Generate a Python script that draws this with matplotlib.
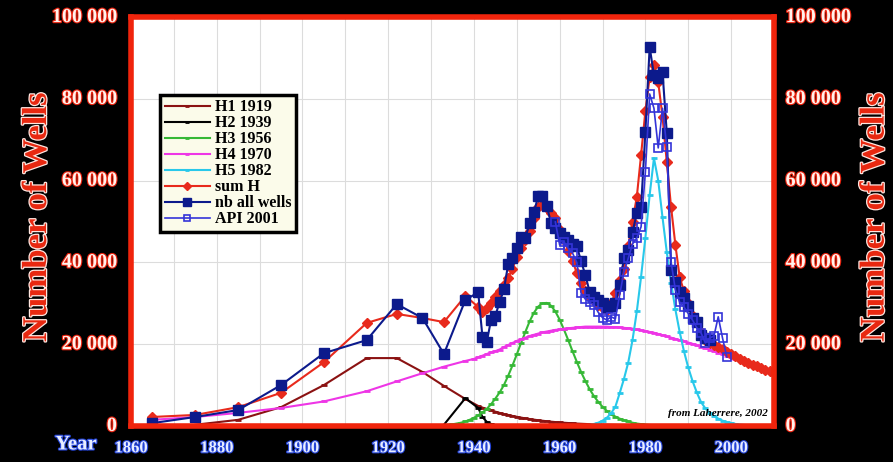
import matplotlib
matplotlib.use("Agg")
import matplotlib.pyplot as plt
import matplotlib.patheffects as pe

# ---- data ----
h1_years = [1875, 1885, 1895, 1905, 1915, 1922, 1928, 1933, 1938, 1941,
            1942, 1943, 1944, 1945, 1946, 1947, 1948, 1949, 1950, 1951,
            1952, 1953, 1954, 1955, 1956, 1957, 1958, 1959, 1960, 1961,
            1962, 1963, 1964, 1965, 1966, 1967, 1968, 1969, 1970, 1971,
            1972, 1973, 1974, 1975]
h1_vals = [300, 1500, 4600, 10000, 16600, 16600, 13200, 9800, 6600, 4900,
           4500, 4100, 3800, 3500, 3200, 2900, 2700, 2450, 2250, 2050,
           1850, 1700, 1550, 1400, 1280, 1160, 1050, 950, 870, 790,
           720, 650, 590, 540, 490, 440, 400, 360, 330, 300,
           270, 250, 220, 200]

h2_years = [1933, 1938, 1941, 1942, 1943, 1944, 1945]
h2_vals = [300, 6800, 4400, 2200, 1000, 500, 200]

h3_years = list(range(1933, 1986))
h3_vals = [200, 300, 400, 600, 800, 1100, 1500, 2000, 2600, 3300,
           4200, 5300, 6700, 8200, 10000, 12300, 14800, 17500, 20300, 23000,
           25600, 27700, 29200, 30000, 30100, 29400, 28000, 26000, 23600, 21000,
           18300, 15700, 13200, 11000, 9000, 7300, 5900, 4700, 3700, 2900,
           2300, 1800, 1400, 1100, 800, 600, 450, 350, 250, 200,
           150, 100, 80]

h4_years = [1865, 1875, 1885, 1895, 1905, 1915, 1922, 1928, 1933, 1938] + list(range(1940, 2011))
h4_vals = [1500, 2200, 3200, 4400, 6000, 8500, 10900, 12900, 14500, 15900,
           16400, 16800, 17200, 17600, 18000, 18300, 18700, 19300, 19800, 20300,
           20800, 21200, 21600, 22000, 22300, 22600, 22900, 23100, 23300, 23500,
           23600, 23800, 23900, 24000, 24100, 24200, 24300, 24300, 24300, 24300,
           24300, 24300, 24200, 24200, 24100, 24000, 23900, 23800, 23600, 23400,
           23200, 23000, 22800, 22500, 22200, 21900, 21600, 21300, 21000, 20700,
           20400, 20100, 19700, 19400, 19000, 18700, 18300, 17900, 17600, 17200,
           16800, 16400, 16100, 15700, 15300, 14900, 14500, 14100, 13700, 13400,
           13000]

h5_years = list(range(1965, 2006))
h5_vals = [100, 200, 300, 500, 800, 1300, 2000, 3100, 4700, 8000,
           11500, 15500, 21000, 28000, 36500, 46000, 56500, 65500, 60000, 51000,
           42500, 35000, 28500, 23000, 18300, 14300, 11000, 8200, 5800, 4300,
           3200, 2400, 1800, 1300, 900, 700, 500, 350, 250, 180,
           120]

sum_years = [1865, 1875, 1885, 1895, 1905, 1915, 1922, 1928, 1933, 1938] + list(range(1941, 2011))
sum_vals = [2200, 2700, 4600, 8100, 15600, 25200, 27400, 26400, 25400, 31800,
            29100, 27900, 28800, 30000, 31500, 33000, 34500, 36200, 38500, 41300,
            43500, 45500, 47700, 50800, 53500, 54000, 53200, 52000, 50800, 48000,
            45500, 42800, 40300, 37500, 35000, 33000, 31600, 30500, 29500, 28800,
            28400, 30100, 32500, 35700, 38500, 44000, 50000, 56000, 66300, 77000,
            85300, 88300, 84100, 75600, 64500, 53500, 44300, 36400, 33000, 30100,
            27000, 25200, 23000, 21000, 20300, 19900, 19400, 18800, 18200, 17500,
            17000, 16500, 16000, 15500, 15000, 14600, 14200, 13800, 13400, 13000]

wells_years = [1865, 1875, 1885, 1895, 1905, 1915, 1922, 1928, 1933, 1938] + list(range(1941, 1996))
wells_vals = [700, 2200, 3900, 10000, 17800, 21000, 29800, 26400, 17600, 30800,
              32700, 21700, 20500, 26000, 27000, 30300, 33400, 39600, 41000, 43500,
              46200, 46000, 49600, 52300, 56200, 56200, 53800, 49600, 48500, 47200,
              46200, 45500, 44500, 44000, 40300, 36900, 32800, 31500, 30800, 30000,
              29100, 29300, 30000, 34500, 41000, 43000, 47400, 52000, 53500, 71900,
              92700, 85800, 85000, 86600, 71600, 38100, 35200, 32800, 31300, 29300,
              26400, 25400, 22200, 21500, 21000]

api_years = list(range(1959, 2000))
api_vals = [49900, 44300, 45000, 43500, 42300, 40000, 32500, 31000, 30200, 29600,
            27800, 26500, 25900, 26700, 26200, 32000, 37700, 41000, 44500, 46000,
            48700, 62100, 81200, 77700, 68000, 77700, 68200, 40100, 33300, 30300,
            29100, 27500, 25900, 24000, 22700, 20300, 21500, 22000, 26700, 21500,
            16900]

xticks = [1860, 1880, 1900, 1920, 1940, 1960, 1980, 2000]
yticks = [0, 20000, 40000, 60000, 80000, 100000]
ytick_labels = ["0", "20 000", "40 000", "60 000", "80 000", "100 000"]

# ---- figure ----
serif = "Liberation Serif"
red_fx = [pe.withStroke(linewidth=1.6, foreground="#e8200c")]
blue_fx = [pe.withStroke(linewidth=1.6, foreground="#2444d8")]

fig = plt.figure(figsize=(8.93, 4.62), dpi=100, facecolor="black")
ax = fig.add_axes([0.1467, 0.078, 0.72, 0.885])
ax.set_facecolor("white")

ax.plot(h1_years, h1_vals, color="#8b1212", lw=1.5, marker="_", ms=4, mew=2, label="H1 1919")
ax.plot(h2_years, h2_vals, color="black", lw=1.5, marker="_", ms=4, mew=2, label="H2 1939")
ax.plot(h3_years, h3_vals, color="#36b836", lw=1.5, marker="_", ms=4, mew=2, label="H3 1956")
ax.plot(h4_years, h4_vals, color="#ee36e6", lw=1.5, marker="_", ms=4, mew=2, label="H4 1970")
ax.plot(h5_years, h5_vals, color="#28c8ea", lw=1.5, marker="_", ms=4, mew=2, label="H5 1982")
ax.plot(sum_years, sum_vals, color="#e82a1c", lw=1.5, marker="D", ms=5.5, label="sum H")
ax.plot(wells_years, wells_vals, color="#0c1a8c", lw=1.5, marker="s", ms=6.5, label="nb all wells")
ax.plot(api_years, api_vals, color="#3434d8", lw=1.2, marker="s", ms=6, mfc="none", mew=1.2,
        label="API 2001")

ax.set_xlim(1860, 2010)
ax.set_ylim(0, 100000)
ax.set_xticks(range(1860, 2011, 10))
ax.set_yticks(yticks)
ax.grid(True, color="#dcdcdc", lw=0.8)
ax.set_axisbelow(True)
ax.tick_params(length=0, labelleft=False, labelbottom=False)
for s in ax.spines.values():
    s.set_color("#f0240c")
    s.set_linewidth(4)

# tick labels as text with outline, both sides
for v, lab in zip(yticks, ytick_labels):
    ax.text(-0.022, v, lab, transform=ax.get_yaxis_transform(), ha="right", va="center",
            fontsize=14.5, fontweight="bold", family=serif, color="#fff2ec", path_effects=red_fx)
    ax.text(1.018, v, lab, transform=ax.get_yaxis_transform(), ha="left", va="center",
            fontsize=14.5, fontweight="bold", family=serif, color="#fff2ec", path_effects=red_fx)
for yr in xticks:
    ax.text(yr, -0.035, str(yr), transform=ax.get_xaxis_transform(), ha="center", va="top",
            fontsize=12, fontweight="bold", family=serif, color="#e8eeff", path_effects=blue_fx)
fig.text(0.085, 0.038, "Year", ha="center", va="center", fontsize=15, fontweight="bold",
         family=serif, color="#e8eeff", path_effects=blue_fx)

wells_fx = [pe.withStroke(linewidth=1.8, foreground="#ffe6e0")]
fig.text(0.042, 0.53, "Number of Wells", rotation=90, ha="center", va="center", fontsize=25,
         fontweight="bold", family=serif, color="#e82810", path_effects=wells_fx)
fig.text(0.98, 0.53, "Number of Wells", rotation=90, ha="center", va="center", fontsize=25,
         fontweight="bold", family=serif, color="#e82810", path_effects=wells_fx)

ax.text(0.99, 0.02, "from Laherrere, 2002", transform=ax.transAxes, ha="right", va="bottom",
        fontsize=8, fontweight="bold", style="italic", family=serif, color="black")

leg = ax.legend(loc="upper left", bbox_to_anchor=(0.033, 0.83), fancybox=False,
                framealpha=1, facecolor="#fbfbea", edgecolor="black", borderpad=0.3,
                labelspacing=0.0, handlelength=2.8, handletextpad=0.3, markerscale=0.8,
                prop={"family": serif, "weight": "bold", "size": 11.5})
leg.get_frame().set_linewidth(2.5)

fig.savefig("out.png", dpi=100, facecolor="black")
